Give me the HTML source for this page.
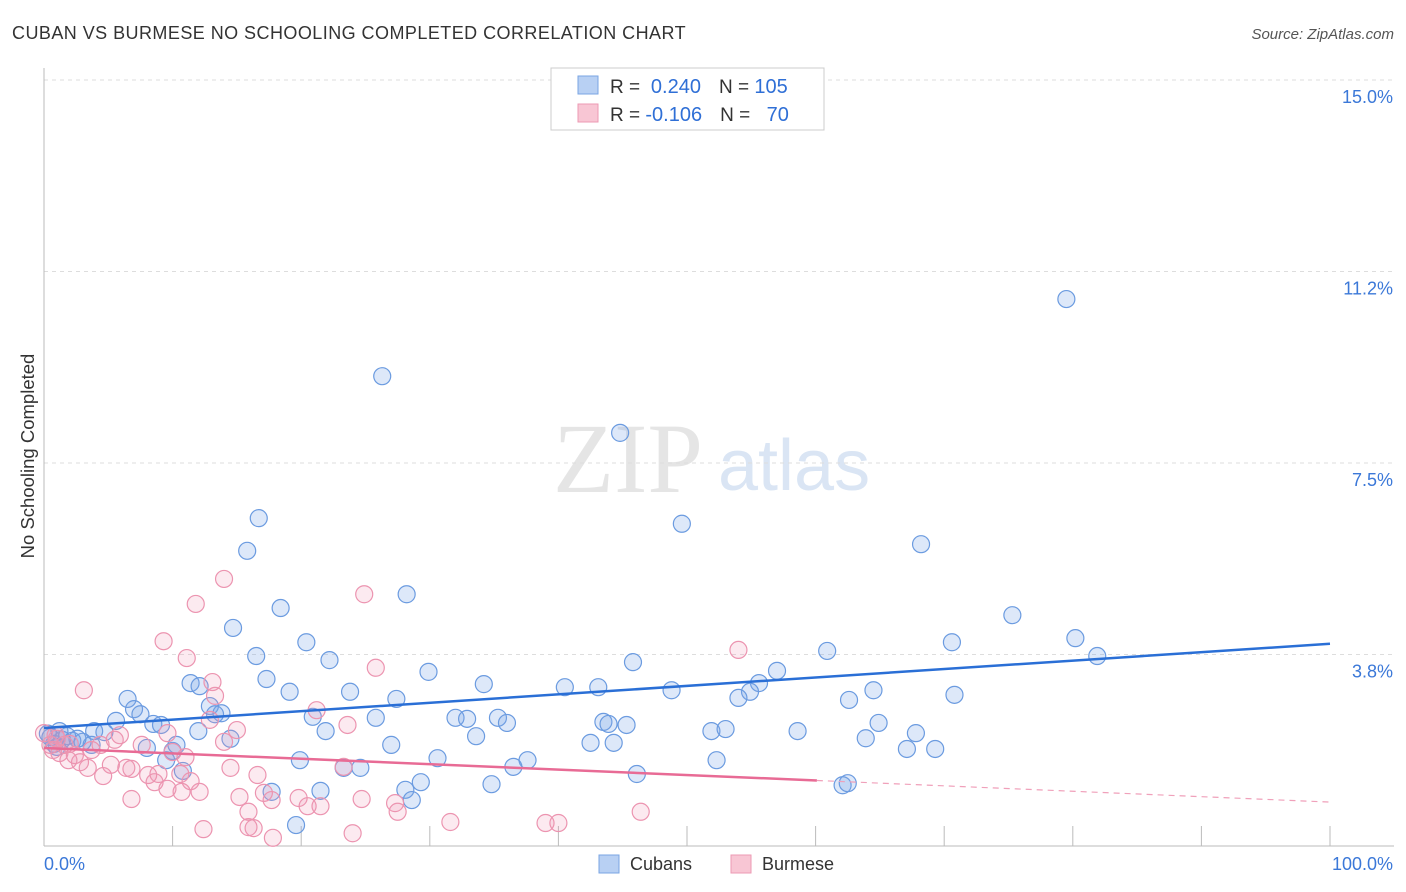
<!DOCTYPE html>
<html><head><meta charset="utf-8"><style>
body{margin:0;background:#fff;font-family:"Liberation Sans",sans-serif;}
svg{display:block}
</style></head><body>
<svg id="chart" width="1406" height="892" xmlns="http://www.w3.org/2000/svg">
<text x="12" y="39" font-size="18" fill="#333" letter-spacing="0.45">CUBAN VS BURMESE NO SCHOOLING COMPLETED CORRELATION CHART</text>
<text x="1394" y="39" font-size="15" fill="#555" font-style="italic" text-anchor="end">Source: ZipAtlas.com</text>
<g opacity="0.9">
<text x="553" y="492" font-size="100" font-family="Liberation Serif,serif" fill="#e3e3e3">ZIP</text>
<text x="718" y="490" font-size="72" fill="#d6e3f3">atlas</text>
</g>
<g id="grid"></g>
<g id="axes"></g>
<text x="34" y="456" font-size="18.5" fill="#333" text-anchor="middle" transform="rotate(-90 34 456)">No Schooling Completed</text>
<g id="marks"></g>
<g>
<rect x="551" y="68" width="273" height="62" fill="#fff" stroke="#ccc"/>
<rect x="578" y="76" width="20" height="18" fill="#b8d0f3" stroke="#7aa5e3"/>
<rect x="578" y="104" width="20" height="18" fill="#f8c6d4" stroke="#ec9ab3"/>
<text x="610" y="93" font-size="19" fill="#333">R = <tspan fill="#2f6fd6" font-size="20">&#160;0.240</tspan><tspan dx="18">N = </tspan><tspan fill="#2f6fd6" font-size="20">105</tspan></text>
<text x="610" y="121" font-size="19" fill="#333">R = <tspan fill="#2f6fd6" font-size="20">-0.106</tspan><tspan dx="18">N = </tspan><tspan fill="#2f6fd6" font-size="20">&#160;&#160;70</tspan></text>
</g>
<g>
<rect x="599" y="855" width="20" height="18" fill="#b8d0f3" stroke="#7aa5e3"/>
<text x="630" y="870" font-size="18" fill="#333">Cubans</text>
<rect x="731" y="855" width="20" height="18" fill="#f8c6d4" stroke="#ec9ab3"/>
<text x="762" y="870" font-size="18" fill="#333">Burmese</text>
</g>
</svg>
<script>
const yTicks=[3.75,7.5,11.25,15];
const yTickLabels=["3.8%","7.5%","11.2%","15.0%"];
const xTickLabels=["0.0%","100.0%"];
const cubanX=[79.5,26.3,44.8,49.6,16.7,15.8,68.2,28.2,18.4,14.7,20.4,75.3,80.2,70.6,16.5,22.2,45.8,60.9,81.9,11.4,17.3,12.1,19.1,29.9,34.2,23.8,27.4,40.5,43.1,48.8,57.0,55.6,54.9,54.0,64.5,70.8,62.6,6.5,7.0,7.5,12.9,13.8,13.3,20.9,25.8,32.0,32.9,35.3,36.0,43.5,43.9,45.3,64.9,5.6,3.9,4.7,8.5,9.1,12.0,21.9,33.6,51.9,53.0,58.6,67.8,63.9,14.5,1.4,2.2,0.5,1.0,3.0,3.7,8.0,10.0,10.3,27.0,42.5,44.3,67.1,69.3,9.5,19.9,30.6,37.6,52.3,10.8,23.3,24.6,36.5,46.1,29.3,34.8,62.1,62.5,28.1,28.6,21.5,17.7,19.6,0.3,0.8,1.8,2.6,1.2];
const cubanY=[10.71,9.2,8.09,6.31,6.42,5.78,5.91,4.93,4.66,4.27,3.99,4.52,4.07,3.99,3.72,3.64,3.60,3.82,3.72,3.19,3.27,3.13,3.02,3.41,3.17,3.02,2.88,3.11,3.11,3.05,3.43,3.19,3.02,2.90,3.05,2.96,2.86,2.88,2.68,2.58,2.74,2.60,2.58,2.53,2.51,2.51,2.49,2.51,2.41,2.43,2.39,2.37,2.41,2.45,2.25,2.23,2.39,2.37,2.25,2.25,2.15,2.25,2.29,2.25,2.21,2.11,2.10,2.08,2.06,2.13,1.94,2.04,1.98,1.92,1.86,1.98,1.98,2.02,2.02,1.90,1.90,1.68,1.68,1.72,1.68,1.68,1.47,1.53,1.53,1.55,1.41,1.25,1.21,1.19,1.23,1.10,0.90,1.08,1.06,0.41,2.2,2.0,2.15,2.1,2.25];
const burmeseX=[14.0,11.8,24.9,9.3,11.1,25.8,54.0,3.1,13.1,13.3,21.2,23.6,12.9,9.6,15.0,14.0,5.5,5.9,4.4,3.7,7.6,10.0,11.0,2.4,1.2,0.7,1.9,2.8,3.4,5.2,6.4,8.1,8.9,10.6,11.4,14.5,16.6,23.3,4.6,6.8,8.6,9.6,10.7,12.1,15.2,17.1,17.7,19.8,21.5,24.7,27.3,27.5,6.8,15.9,20.5,15.9,12.4,16.3,24.0,31.6,39.0,40.0,46.4,17.8,1.6,0.5,0.9,0.0,2.0,1.0];
const burmeseY=[5.23,4.74,4.93,4.01,3.68,3.49,3.84,3.05,3.21,2.94,2.66,2.37,2.47,2.21,2.27,2.04,2.08,2.17,1.98,1.88,1.98,1.84,1.74,1.78,1.82,1.88,1.68,1.64,1.53,1.59,1.53,1.39,1.41,1.41,1.27,1.53,1.39,1.55,1.37,1.51,1.25,1.12,1.06,1.06,0.96,1.04,0.90,0.94,0.78,0.92,0.84,0.67,0.92,0.67,0.78,0.37,0.33,0.35,0.25,0.47,0.45,0.45,0.67,0.16,1.98,1.98,2.17,2.21,2.0,2.1];
const cubanTrend=[2.31,3.96];
const burmeseTrend=[1.92,0.86];
const burmeseSolidEnd=60.1;

const NS="http://www.w3.org/2000/svg";
const X0=44,X1=1330,Y0=846,YTOP=80;
const xs=v=>X0+(X1-X0)*v/100;
const ys=v=>Y0-(Y0-YTOP)*v/15;
function mk(tag,attrs,parent){const e=document.createElementNS(NS,tag);for(const k in attrs)e.setAttribute(k,attrs[k]);parent.appendChild(e);return e;}
const grid=document.getElementById('grid'),axes=document.getElementById('axes'),marks=document.getElementById('marks');
yTicks.forEach((t,i)=>{
 const l=mk('line',{x1:X0,x2:1394,y1:ys(t),y2:ys(t),stroke:'#ddd','stroke-dasharray':'4,4'},grid);
 
 
 const tx=mk('text',{x:1393,y:ys(t)+23,'font-size':18,fill:'#3b78d8','text-anchor':'end'},grid);
 tx.textContent=yTickLabels[i];
 
 
});
const ax=mk('line',{x1:X0,x2:X0,y1:68,y2:Y0,stroke:'#bbb'},axes);


const bx=mk('line',{x1:X0,x2:1394,y1:Y0,y2:Y0,stroke:'#bbb'},axes);


for(let i=1;i<=10;i++){
 const t=mk('line',{x1:xs(i*10),x2:xs(i*10),y1:Y0-20,y2:Y0,stroke:'#bbb'},axes);
 
 
}
[[0,'start',44],[1,'end',1393]].forEach(([i,a,x])=>{
 const t=mk('text',{x:x,y:870,'font-size':18,fill:'#3b78d8','text-anchor':a},axes);
 t.textContent=xTickLabels[i];
 
 
});
cubanX.forEach((v,i)=>{
 const c=mk('circle',{cx:xs(v),cy:ys(cubanY[i]),r:8.5,fill:'rgba(120,165,230,0.25)',stroke:'#6b9be0','stroke-width':1.2},marks);
 
 
});
burmeseX.forEach((v,i)=>{
 const c=mk('circle',{cx:xs(v),cy:ys(burmeseY[i]),r:8.5,fill:'rgba(240,150,180,0.2)',stroke:'#ec94b0','stroke-width':1.2},marks);
 
 
});
const bl=mk('line',{x1:xs(0),y1:ys(cubanTrend[0]),x2:xs(100),y2:ys(cubanTrend[1]),stroke:'#2a6fd6','stroke-width':2.5},marks);


const pAt=x=>burmeseTrend[0]+(burmeseTrend[1]-burmeseTrend[0])*x/100;
const pl=mk('line',{x1:xs(0),y1:ys(pAt(0)),x2:xs(burmeseSolidEnd),y2:ys(pAt(burmeseSolidEnd)),stroke:'#e86b95','stroke-width':2.5},marks);


const pd=mk('line',{x1:xs(burmeseSolidEnd),y1:ys(pAt(burmeseSolidEnd)),x2:xs(100),y2:ys(pAt(100)),stroke:'#f0a0ba','stroke-width':1.2,'stroke-dasharray':'6,5'},marks);


</script>
</body></html>
